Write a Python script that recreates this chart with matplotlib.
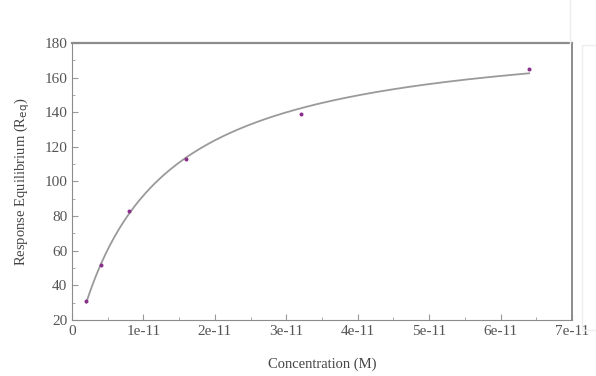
import numpy as np
import matplotlib
matplotlib.use("Agg")
import matplotlib.pyplot as plt
from matplotlib.ticker import MultipleLocator
from matplotlib.patches import Rectangle

# 数据点（浓度 M，响应 Req）
conc = [2e-12, 4e-12, 8e-12, 1.6e-11, 3.2e-11, 6.4e-11]
req = [31, 52, 83, 113, 139, 165]

x_ticks = [0, 1e-11, 2e-11, 3e-11, 4e-11, 5e-11, 6e-11, 7e-11]
x_labels = ["0", "1e-11", "2e-11", "3e-11", "4e-11", "5e-11", "6e-11", "7e-11"]
y_ticks = [20, 40, 60, 80, 100, 120, 140, 160, 180]

# 稳态亲和力拟合 R = Rmax*C/(KD+C)：对 KD 扫描，Rmax 线性最小二乘
c = np.array(conc)
r = np.array(req, dtype=float)
best = None
for kd in np.linspace(1e-12, 5e-11, 2000):
    g = c / (kd + c)
    rmax = (g @ r) / (g @ g)
    err = ((rmax * g - r) ** 2).sum()
    if best is None or err < best[0]:
        best = (err, kd, rmax)
_, kd, rmax = best
xf = np.linspace(c.min(), c.max(), 300)
yf = rmax * xf / (kd + xf)

plt.rcParams["font.family"] = ["Liberation Serif", "DejaVu Serif"]

fig = plt.figure(figsize=(5.96, 3.76), dpi=100)
ax = fig.add_axes([72 / 596, 1 - 320 / 376, 500 / 596, 277 / 376])

ax.plot(xf, yf, color="#9a9a9a", linewidth=1.3, zorder=2)
ax.scatter(conc, req, s=3.5, color="#8a2f8a", zorder=3)

ax.set_xlim(0, 7e-11)
ax.set_ylim(20, 180)
ax.set_xticks(x_ticks)
ax.set_xticklabels(x_labels)
ax.set_yticks(y_ticks)
ax.xaxis.set_minor_locator(MultipleLocator(5e-12))
ax.yaxis.set_minor_locator(MultipleLocator(10))
ax.tick_params(which="both", direction="in", color="#999999", labelcolor="#555555",
               labelsize=11, top=False, right=False)
ax.tick_params(which="major", length=4)
ax.tick_params(which="minor", length=2)
for side in ["left", "bottom", "top", "right"]:
    ax.spines[side].set_color("#8c8c8c")
ax.spines["top"].set_linewidth(1.6)
ax.spines["right"].set_linewidth(1.4)

ax.set_xlabel("Concentration (M)", color="#444444", fontsize=10.5, labelpad=14)
ax.set_ylabel("Response Equilibrium (R$_{\\mathrm{eq}}$)", color="#444444", fontsize=10.5, labelpad=9)

# 右侧浅色边框
fig.add_artist(Rectangle((582 / 596, 1 - 330 / 376), 20 / 596, 285 / 376,
                         transform=fig.transFigure, fill=False, edgecolor="#eeeeee", linewidth=1))
fig.add_artist(plt.Line2D([570 / 596, 570 / 596], [1 - 43 / 376, 1.0],
                          transform=fig.transFigure, color="#eeeeee", linewidth=1))

fig.savefig("out.png", dpi=100)
